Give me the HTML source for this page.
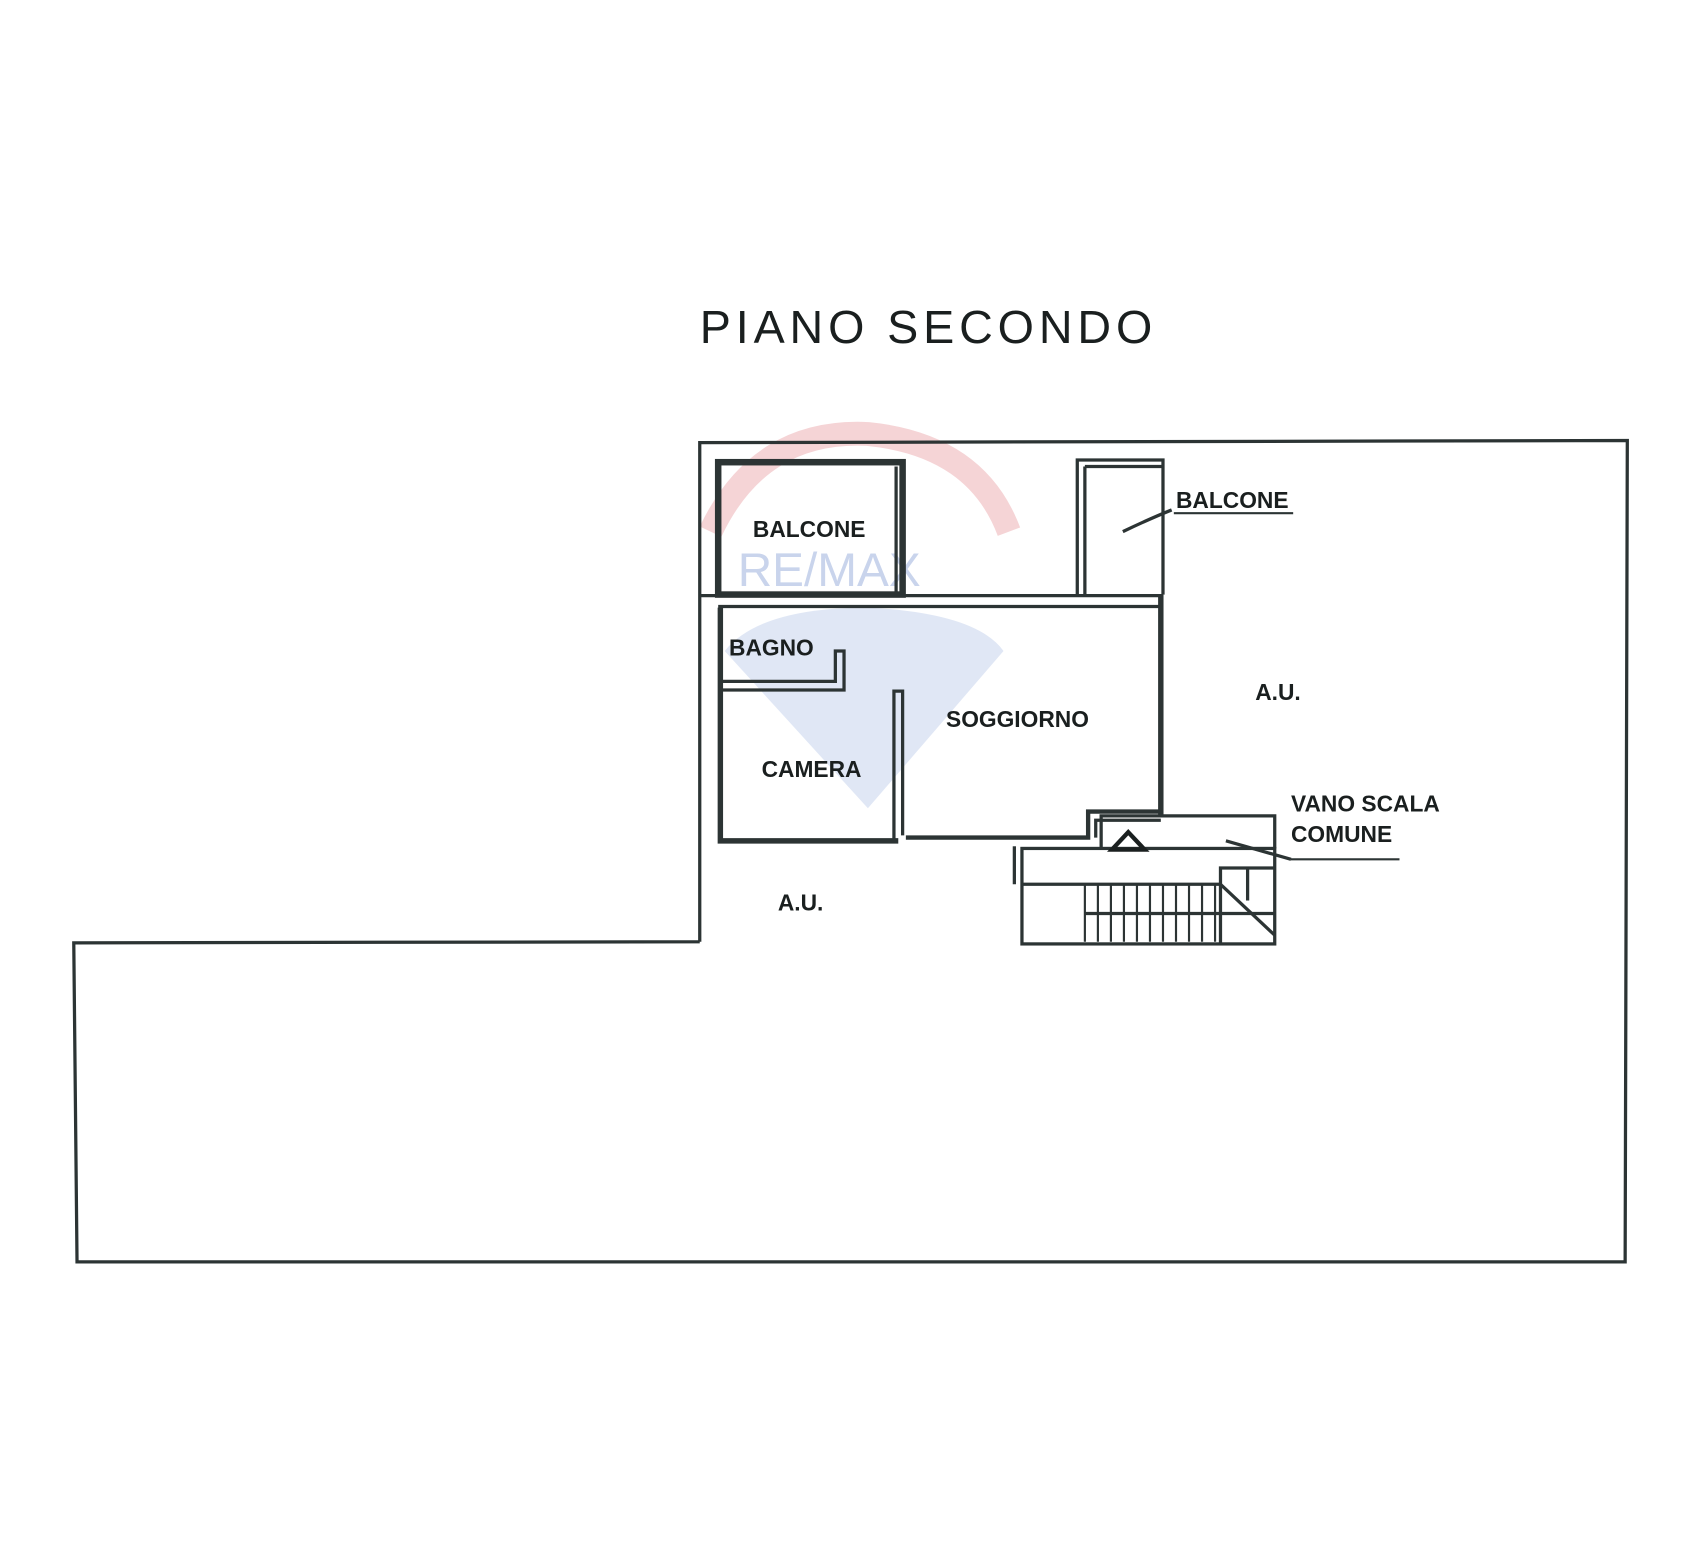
<!DOCTYPE html>
<html><head><style>
html,body{margin:0;padding:0;background:#fff;}
svg{display:block}
text{font-family:"Liberation Sans",sans-serif;font-weight:bold;fill:#1a1f1f}
</style></head><body>
<svg width="1700" height="1545" viewBox="0 0 1567 1424" preserveAspectRatio="none" xmlns="http://www.w3.org/2000/svg">
<rect width="1567" height="1424" fill="#fff"/>
<path d="M655,490 Q700,395 800,400 Q900,410 930,490" fill="none" stroke="#f3c9cc" stroke-width="22" opacity="0.8"/>
<path d="M668,600 Q700,560 800,560 Q900,565 925,600 L800,745 Z" fill="#d8e1f2" opacity="0.8"/>
<text x="680" y="540" font-size="44" style="fill:#c9d4ec;font-weight:normal">RE/MAX</text>
<g fill="none" stroke="#2c3434" stroke-width="3">
<polyline points="645,868 645,408 1500,406 1498,1163 71,1163 68,869 645,868"/>
<rect x="662" y="426" width="170" height="122" stroke-width="6"/>
<line x1="826" y1="430" x2="826" y2="548"/>
<line x1="645" y1="549" x2="1072" y2="549"/>
<line x1="662" y1="559" x2="1068" y2="559"/>
<polyline points="993,548 993,424 1072,424 1072,548"/>
<line x1="1000" y1="430" x2="1000" y2="548"/>
<line x1="1000" y1="430" x2="1072" y2="430"/>
<line x1="1070" y1="548" x2="1070" y2="752" stroke-width="5"/>
<polyline points="664,560 664,775 828,775" stroke-width="5"/>
<polyline points="664,636 778,636 778,600 770,600 770,628 664,628"/>
<polyline points="824,775 824,637 832,637 832,770" />
<polyline points="835,772 1003,772 1003,748 1070,748" stroke-width="4"/>
<polyline points="1010,772 1010,756 1070,756"/>
<rect x="942" y="782" width="233" height="88"/>
<polyline points="1015,782 1015,752 1175,752 1175,782"/>
<line x1="942" y1="815" x2="1125" y2="815"/>
<line x1="1000" y1="842" x2="1175" y2="842"/>
<line x1="935" y1="780" x2="935" y2="815"/>
<polyline points="1125,870 1125,800 1175,800"/>
<line x1="1125" y1="815" x2="1175" y2="862"/>
<line x1="1150" y1="800" x2="1150" y2="830"/>
<path d="M1035,490 Q1060,478 1080,470" />
<line x1="1082" y1="473" x2="1192" y2="473" stroke-width="2"/>
<line x1="1130" y1="775" x2="1190" y2="792"/>
<line x1="1190" y1="792" x2="1290" y2="792" stroke-width="2"/>
</g>
<g stroke="#2c3434" stroke-width="2">
<line x1="1000" y1="815" x2="1000" y2="868"/><line x1="1012" y1="815" x2="1012" y2="868"/><line x1="1024" y1="815" x2="1024" y2="868"/><line x1="1036" y1="815" x2="1036" y2="868"/><line x1="1048" y1="815" x2="1048" y2="868"/><line x1="1060" y1="815" x2="1060" y2="868"/><line x1="1072" y1="815" x2="1072" y2="868"/><line x1="1084" y1="815" x2="1084" y2="868"/><line x1="1096" y1="815" x2="1096" y2="868"/><line x1="1108" y1="815" x2="1108" y2="868"/><line x1="1120" y1="815" x2="1120" y2="868"/>
</g>
<polygon points="1040,767 1055,783 1025,783" fill="none" stroke="#1a1f1f" stroke-width="4"/>
<text x="645" y="316" font-size="43" style="font-weight:normal;letter-spacing:4.5px">PIANO SECONDO</text>
<g font-size="21">
<text x="694" y="495">BALCONE</text>
<text x="672" y="604">BAGNO</text>
<text x="872" y="670">SOGGIORNO</text>
<text x="702" y="716">CAMERA</text>
<text x="1157" y="645">A.U.</text>
<text x="717" y="839">A.U.</text>
<text x="1084" y="468">BALCONE</text>
<text x="1190" y="748">VANO SCALA</text>
<text x="1190" y="776">COMUNE</text>
</g>
</svg>
</body></html>
